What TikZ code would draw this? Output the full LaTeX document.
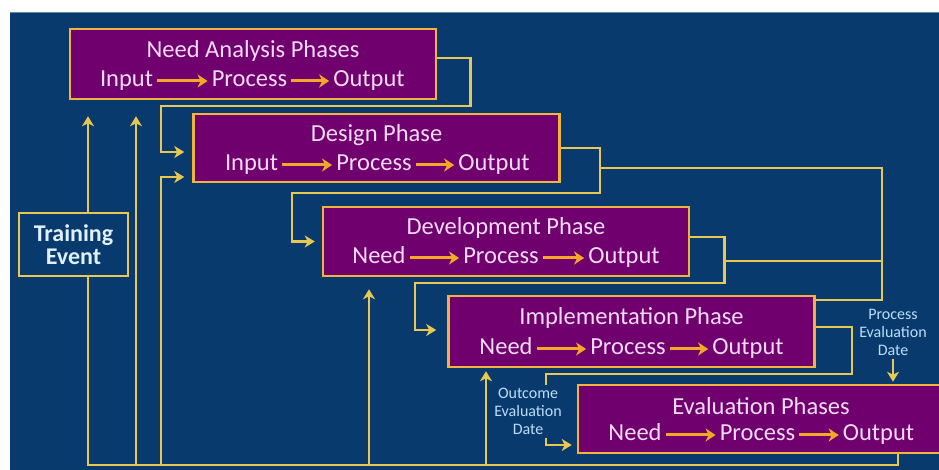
\documentclass[tikz,border=0pt]{standalone}
\usepackage{fontspec}
\setmainfont{Carlito}
\usetikzlibrary{arrows.meta}

\definecolor{navy}{RGB}{8,58,110}
\definecolor{plum}{RGB}{112,0,110}
\definecolor{boxedge}{RGB}{240,180,60}
\definecolor{linkcol}{RGB}{232,200,80}
\definecolor{flowcol}{RGB}{245,168,40}
\definecolor{boxtext}{RGB}{245,218,245}
\definecolor{notetext}{RGB}{190,220,250}
\definecolor{traintext}{RGB}{225,240,255}

\tikzset{
  phase/.style={draw=boxedge, fill=plum, line width=2.5pt, minimum width=366pt, minimum height=69pt},
  title/.style={text=boxtext, font=\fontsize{24.5}{27}\selectfont},
  word/.style={text=boxtext, font=\fontsize{24.5}{27}\selectfont, text height=17pt, text depth=5pt, inner sep=2pt},
  flow/.style={draw=flowcol, line width=3pt, -{Stealth[length=10pt,width=13pt,inset=3pt]}, shorten >=2pt, shorten <=2pt},
  link/.style={draw=linkcol, line width=2.5pt, shorten >=7pt},
  note/.style={text=notetext, align=center, font=\fontsize{16}{18}\selectfont},
  trainbox/.style={draw=linkcol, fill=navy, line width=2pt, minimum width=109pt, minimum height=63pt, align=center,
    text=traintext, font=\fontsize{24}{26}\selectfont\bfseries},
  >={Stealth[length=10pt,width=12pt,inset=3pt]}
}

% one row of a phase box
\newcommand\phaserow[6]{%
  \node[word] (#1-a) at (#3,#6) {#2};
  \node[word] (#1-b) at (#4,#6) {Process};
  \node[word] (#1-c) at (#5,#6) {Output};
  \draw[flow] (#1-a) -- (#1-b);
  \draw[flow] (#1-b) -- (#1-c);
}

\begin{document}
\begin{tikzpicture}[x=1pt, y=1pt]
  \useasboundingbox (0,0) rectangle (939,470);
  \clip (0,0) rectangle (939,470);
  \fill[white] (0,0) rectangle (939,470);
  \fill[navy] (10,0) rectangle (939,458);
  \draw[color={rgb,255:red,95;green,135;blue,175}, line width=1.5pt] (10,457.5) -- (939,457.5);

  % phase boxes
  \node[phase, minimum height=70pt] (need) at (253,406) {};
  \node[phase, minimum height=68pt] (design) at (376.5,322) {};
  \node[phase] (dev) at (506,228.5) {};
  \node[phase, minimum height=71pt] (impl) at (631.5,138.5) {};
  \node[phase, minimum height=68pt] (eval) at (761,51) {};
  \node[trainbox] (train) at (73.5,225.5) {Training\\[-3pt]Event};

  \node[title] (need-t) at ([yshift=13]need.center) {Need Analysis Phases};
  \node[title] (design-t) at ([yshift=13]design.center) {Design Phase};
  \node[title] (dev-t) at ([yshift=13.5]dev.center) {Development Phase};
  \node[title] (impl-t) at ([yshift=13.5]impl.center) {Implementation Phase};
  \node[title] (eval-t) at ([yshift=13]eval.center) {Evaluation Phases};

  \phaserow{need}{Input}{126.5}{249.5}{369}{389}
  \phaserow{design}{Input}{251.5}{374}{494}{305}
  \phaserow{dev}{Need}{379}{501}{624}{212}
  \phaserow{impl}{Need}{506}{628}{748}{121}
  \phaserow{eval}{Need}{635}{757.5}{878.5}{35}

  % free ends and junctions
  \coordinate (base) at (0,5);
  \coordinate (evalfoot) at ([xshift=137]eval.south);
  \coordinate (up1) at (136,5);
  \coordinate (up2) at (369,5);
  \coordinate (up3) at (486,5);
  \coordinate (up4) at (161,5);
  \coordinate (j1) at (599,302);
  \coordinate (j2) at (723,209);
  \coordinate (outtop) at (546,85);
  \coordinate (outfoot) at (546,32);

  % forward links
  \draw[link, ->, shorten >=8pt] ([yshift=6]need.east) -- ++(33,0) |- (161,364) |- ([yshift=-4]design.west);
  \draw[link, ->] (design.east) -- ++(39,0) |- (292,277) |- (dev.west);
  \draw[link, shorten >=0pt] (j1) -| (882,170) -- ([yshift=31.5]impl.east);
  \draw[link, ->, shorten >=11pt] ([yshift=4.5]dev.east) -- ++(34,0) |- (415,187) |- ([yshift=1.5]impl.west);
  \draw[link, shorten >=0pt] (j2) -- ++(159,0);
  \draw[link, shorten >=0pt] ([yshift=4.5]impl.east) -| (852,96) -| (outtop);

  % evaluation dates
  \node[note] (outlbl) at (528,59) {Outcome\\Evaluation\\Date};
  \node[note] (proclbl) at (893,138) {Process\\Evaluation\\Date};
  \draw[link, ->, shorten >=5pt] (outfoot) |- ([yshift=-26]eval.west);
  \draw[link, ->, shorten >=2pt] (proclbl) -- (proclbl |- eval.north);

  % feedback along the bottom
  \draw[link, shorten >=0pt] ([xshift=14.5]train.south) |- (evalfoot |- base) -- (evalfoot);
  \draw[link, ->, shorten >=16pt] ([xshift=14.5]train.north) -- ([xshift=-165]need.south);
  \draw[link, ->, shorten >=16pt] (up1) -- (up1 |- need.south);
  \draw[link, ->, shorten >=12pt] (up2) -- (up2 |- dev.south);
  \draw[link, ->, shorten >=3pt] (up3) -- (up3 |- impl.south);
  \draw[link, ->, shorten >=8pt] (up4) |- ([yshift=-29]design.west);
\end{tikzpicture}
\end{document}
